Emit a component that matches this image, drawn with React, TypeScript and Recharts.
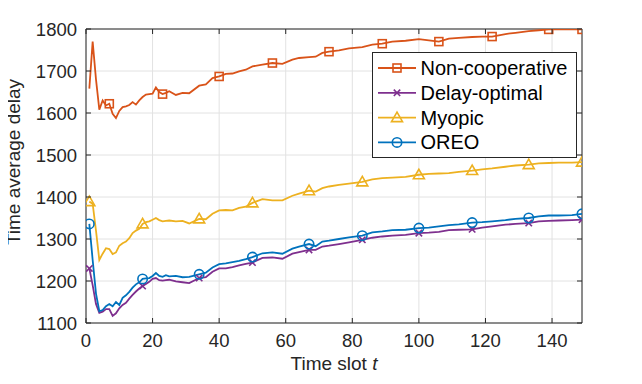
import { LineChart, Line, XAxis, YAxis, CartesianGrid, Legend, ReferenceLine } from "recharts"

// time slots where the curves were sampled from the figure
const timeSlots = [
  1, 2, 3, 4, 5, 6, 7, 8, 9, 10, 11, 12, 13, 14, 15, 16, 17, 18, 19, 20, 21, 22, 23, 24, 25,
  27, 29, 31, 34, 36, 38, 40, 42, 44, 46, 48, 50,
  53, 56, 59, 62, 64, 67, 69, 71, 73, 76, 79, 83,
  86, 89, 92, 96, 100, 103, 106, 109, 112, 116, 119, 122,
  126, 129, 133, 136, 139, 142, 146, 149,
]

const nonCooperative = [
  1658, 1770, 1680, 1608, 1630, 1618, 1622, 1598, 1588, 1605, 1614, 1616, 1619, 1626, 1620, 1630, 1638, 1644, 1645, 1646, 1661, 1650, 1645, 1648, 1652,
  1643, 1648, 1647, 1665, 1668, 1683, 1687, 1693, 1694, 1699, 1703, 1711,
  1715, 1719, 1717, 1727, 1731, 1733, 1734, 1743, 1746, 1749, 1754, 1757,
  1763, 1765, 1770, 1772, 1776, 1773, 1770, 1777, 1779, 1781, 1782, 1782,
  1788, 1791, 1795, 1797, 1799, 1799, 1799, 1799,
]

const delayOptimal = [
  1230, 1190, 1145, 1124, 1127, 1133, 1133, 1117, 1123, 1135, 1143, 1148, 1158, 1167, 1175, 1182, 1188, 1193, 1198, 1205, 1207, 1202, 1201, 1202, 1203,
  1199, 1197, 1195, 1207, 1209, 1222, 1230, 1230, 1233, 1237, 1241, 1244,
  1255, 1256, 1253, 1265, 1269, 1274, 1274, 1282, 1284, 1288, 1292, 1298,
  1303, 1306, 1308, 1310, 1314, 1315, 1317, 1321, 1322, 1323, 1327, 1330,
  1334, 1336, 1338, 1342, 1343, 1344, 1345, 1346,
]

const myopic = [
  1389, 1384, 1320, 1250, 1265, 1278, 1276, 1264, 1268, 1284, 1290, 1294, 1302, 1314, 1320, 1324, 1336, 1340, 1342, 1346, 1350, 1345, 1342, 1343, 1344,
  1342, 1343, 1337, 1348, 1347, 1360, 1368, 1369, 1368, 1374, 1377, 1386,
  1395, 1392, 1392, 1403, 1408, 1415, 1413, 1421, 1425, 1429, 1432, 1436,
  1442, 1445, 1446, 1448, 1453, 1455, 1456, 1457, 1460, 1463, 1466, 1468,
  1472, 1475, 1477, 1480, 1481, 1482, 1482, 1483,
]

const oreo = [
  1336, 1250, 1170, 1128, 1131, 1140, 1145, 1140, 1150, 1143, 1160, 1166, 1174, 1184, 1192, 1197, 1205, 1206, 1207, 1212, 1219, 1212, 1210, 1214, 1211,
  1212, 1209, 1210, 1216, 1220, 1232, 1240, 1242, 1245, 1248, 1252, 1257,
  1266, 1268, 1265, 1277, 1282, 1288, 1283, 1294, 1296, 1300, 1304, 1308,
  1316, 1318, 1321, 1322, 1326, 1327, 1330, 1333, 1335, 1339, 1340, 1342,
  1345, 1348, 1350, 1354, 1356, 1356, 1357, 1360,
]

const nonCoopMarkerSlots = [7, 23, 40, 56, 73, 89, 106, 122, 139, 149]
const otherMarkerSlots = [1, 17, 34, 50, 67, 83, 100, 116, 133, 149]

const xTicks = [0, 20, 40, 60, 80, 100, 120, 140]
const yTicks = [1100, 1200, 1300, 1400, 1500, 1600, 1700, 1800]

// chart covers the whole page (body margin is cancelled below)
const W = 642
const H = 384
const PLOT_LEFT = 86
const PLOT_RIGHT = 582
const PLOT_TOP = 29
const PLOT_BOTTOM = 323
const AXIS_COLOR = "#262626"
const FONT = '"Liberation Sans", Arial, Helvetica, sans-serif'
const LINE_W = 1.8

const data = timeSlots.map((t, i) => ({
  t,
  nonCooperative: nonCooperative[i],
  delayOptimal: delayOptimal[i],
  myopic: myopic[i],
  oreo: oreo[i],
}))

type Shape = "square" | "cross" | "triangle" | "circle"

const series: { key: string; name: string; color: string; marker: Shape; slots: number[] }[] = [
  { key: "nonCooperative", name: "Non-cooperative", color: "#D95319", marker: "square", slots: nonCoopMarkerSlots },
  { key: "delayOptimal", name: "Delay-optimal", color: "#7E2F8E", marker: "cross", slots: otherMarkerSlots },
  { key: "myopic", name: "Myopic", color: "#EDB120", marker: "triangle", slots: otherMarkerSlots },
  { key: "oreo", name: "OREO", color: "#0072BD", marker: "circle", slots: otherMarkerSlots },
]

function Marker({ shape, x, y, color }: { shape: Shape; x: number; y: number; color: string }) {
  if (shape === "square") {
    return <rect x={x - 4} y={y - 4} width={8} height={8} fill="none" stroke={color} strokeWidth={1.6} />
  }
  if (shape === "cross") {
    return (
      <g stroke={color} strokeWidth={1.6}>
        <line x1={x - 3.2} y1={y - 3.2} x2={x + 3.2} y2={y + 3.2} />
        <line x1={x - 3.2} y1={y + 3.2} x2={x + 3.2} y2={y - 3.2} />
      </g>
    )
  }
  if (shape === "triangle") {
    return <polygon points={`${x},${y - 5.5} ${x - 5.5},${y + 4} ${x + 5.5},${y + 4}`} fill="none" stroke={color} strokeWidth={1.6} />
  }
  return <circle cx={x} cy={y} r={4.7} fill="none" stroke={color} strokeWidth={1.6} />
}

function dotFor(shape: Shape, color: string, slots: number[]) {
  return (props: any) => {
    const { cx, cy, payload, index } = props
    if (cx == null || cy == null || !slots.includes(payload.t)) return <g key={`dot-${index}`} />
    return (
      <g key={`dot-${index}`}>
        <Marker shape={shape} x={cx} y={cy} color={color} />
      </g>
    )
  }
}

function XTick(props: any) {
  const { x, payload } = props
  return (
    <g>
      <line x1={x} x2={x} y1={PLOT_BOTTOM} y2={PLOT_BOTTOM - 5} stroke={AXIS_COLOR} />
      <line x1={x} x2={x} y1={PLOT_TOP} y2={PLOT_TOP + 5} stroke={AXIS_COLOR} />
      <text x={x} y={347} textAnchor="middle" fontSize={18.5} fontFamily={FONT} fill={AXIS_COLOR}>
        {payload.value}
      </text>
    </g>
  )
}

function YTick(props: any) {
  const { y, payload } = props
  return (
    <g>
      <line x1={PLOT_LEFT} x2={PLOT_LEFT + 5} y1={y} y2={y} stroke={AXIS_COLOR} />
      <line x1={PLOT_RIGHT - 5} x2={PLOT_RIGHT} y1={y} y2={y} stroke={AXIS_COLOR} />
      <text x={77} y={y + 6.5} textAnchor="end" fontSize={18.5} fontFamily={FONT} fill={AXIS_COLOR}>
        {payload.value}
      </text>
    </g>
  )
}

function LegendBox() {
  return (
    <svg width={206} height={107} style={{ display: "block" }}>
      <rect x={0.5} y={0.5} width={204} height={105} fill="#fff" stroke={AXIS_COLOR} />
      {series.map((s, i) => {
        const cy = 16 + i * 24.8
        return (
          <g key={s.key}>
            <line x1={6} x2={44} y1={cy} y2={cy} stroke={s.color} strokeWidth={LINE_W} />
            <Marker shape={s.marker} x={25} y={cy} color={s.color} />
            <text x={48.5} y={cy + 7} fontSize={20} fontFamily={FONT} fill="#000">
              {s.name}
            </text>
          </g>
        )
      })}
    </svg>
  )
}

export default function App() {
  return (
    <div style={{ margin: "-8px 0 0 -8px", width: W, height: H }}>
      <LineChart width={W} height={H} data={data} margin={{ top: PLOT_TOP, right: W - PLOT_RIGHT, left: 0, bottom: 0 }}>
        <CartesianGrid stroke="#e2e2e2" strokeWidth={1} />
        <XAxis
          dataKey="t"
          type="number"
          domain={[0, 149]}
          ticks={xTicks}
          allowDataOverflow
          height={H - PLOT_BOTTOM}
          tickLine={false}
          axisLine={{ stroke: AXIS_COLOR }}
          tick={<XTick />}
          label={() => (
            <text x={(PLOT_LEFT + PLOT_RIGHT) / 2} y={370} textAnchor="middle" fontSize={19} fontFamily={FONT} fill={AXIS_COLOR}>
              Time slot <tspan fontStyle="italic">t</tspan>
            </text>
          )}
        />
        <YAxis
          type="number"
          domain={[1100, 1800]}
          ticks={yTicks}
          allowDataOverflow
          width={PLOT_LEFT}
          tickLine={false}
          axisLine={{ stroke: AXIS_COLOR }}
          tick={<YTick />}
          label={() => (
            <text x={20} y={162} transform="rotate(-90 20 162)" textAnchor="middle" fontSize={19} fontFamily={FONT} fill={AXIS_COLOR}>
              Time average delay
            </text>
          )}
        />
        <ReferenceLine y={1800} stroke={AXIS_COLOR} />
        <ReferenceLine x={149} stroke={AXIS_COLOR} />
        {series.map((s) => (
          <Line
            key={s.key}
            type="linear"
            dataKey={s.key}
            name={s.name}
            stroke={s.color}
            strokeWidth={LINE_W}
            dot={dotFor(s.marker, s.color, s.slots)}
            activeDot={false}
            isAnimationActive={false}
          />
        ))}
        <Legend
          layout="vertical"
          align="center"
          verticalAlign="middle"
          wrapperStyle={{ left: 372, top: 52, width: 206, height: 107 }}
          content={() => <LegendBox />}
        />
      </LineChart>
    </div>
  )
}
